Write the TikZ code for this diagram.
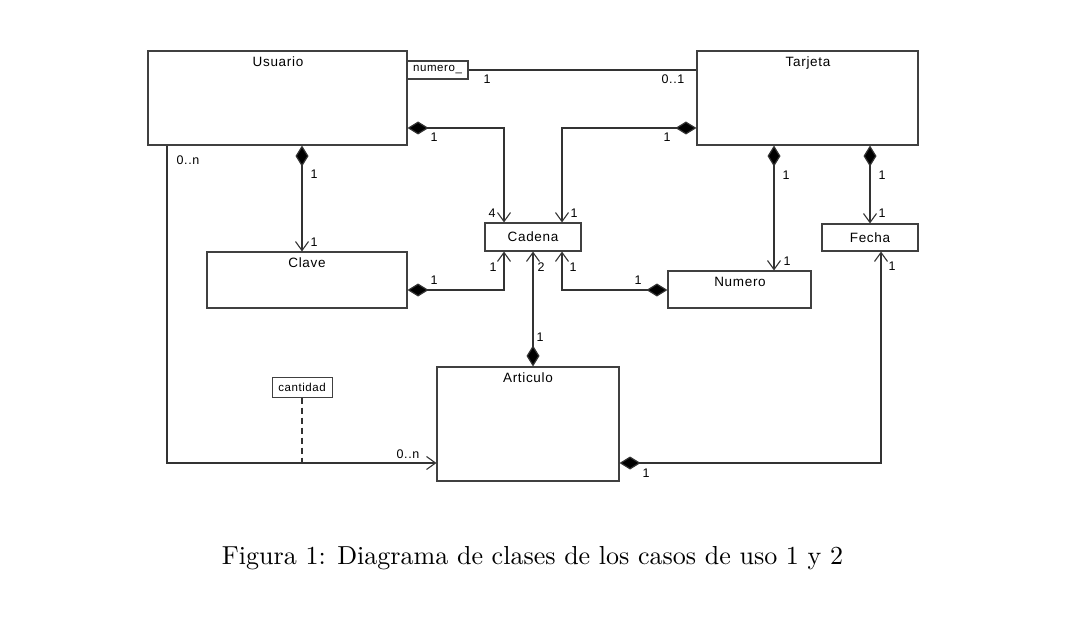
\documentclass[tikz,border=0pt]{standalone}
\usepackage{fontspec}
\newfontfamily\diagfont[LetterSpace=5]{Liberation Sans}
\usetikzlibrary{arrows.meta,calc}
\begin{document}
\begin{tikzpicture}[x=1pt,y=-1pt,
  cls/.style={draw=black!75,line width=1.1pt,fill=white,inner sep=0pt},
  ttl/.style={font=\diagfont\fontsize{13.5}{15}\selectfont,inner sep=0pt,anchor=north},
  mult/.style={font=\diagfont\fontsize{12.5}{14}\selectfont,inner sep=0pt},
  link/.style={draw=black!80,line width=1.2pt},
  comp/.style={link,{Diamond[length=21pt,width=13pt,fill=black]}-{Straight Barb[length=9pt,width=13pt,line width=1.1pt]}},
  nav/.style={link,-{Straight Barb[length=9pt,width=13pt,line width=1.1pt]}},
  note/.style={draw=black!75,line width=1pt,inner sep=0pt,font=\diagfont\fontsize{11.5}{12}\selectfont}
]
\useasboundingbox (0,0) rectangle (1086,620);
% classes
\node[cls,minimum width=259pt,minimum height=94pt] (usuario) at (277.5,98) {};
\node[ttl] at (278,57) {Usuario};
\node[cls,minimum width=221pt,minimum height=94pt] (tarjeta) at (807.5,98) {};
\node[ttl] at (808,57) {Tarjeta};
\node[cls,minimum width=61pt,minimum height=18pt,font=\diagfont\fontsize{11.5}{12}\selectfont] (numero) at (437.5,70) {numero\_};
\node[cls,minimum width=96pt,minimum height=28pt,font=\diagfont\fontsize{13.5}{15}\selectfont] (cadena) at (533,237) {Cadena};
\node[cls,minimum width=200pt,minimum height=56pt] (clave) at (307,280) {};
\node[ttl] at (307,258) {Clave};
\node[cls,minimum width=143pt,minimum height=37pt] (numcls) at (739.5,289.5) {};
\node[ttl] at (740,277) {Numero};
\node[cls,minimum width=96pt,minimum height=27pt,font=\diagfont\fontsize{13.5}{15}\selectfont] (fecha) at (870,237.5) {Fecha};
\node[cls,minimum width=182pt,minimum height=114pt] (articulo) at (528,424) {};
\node[ttl] at (528,373) {Articulo};
\node[note,minimum width=60pt,minimum height=20pt] (cantidad) at (302,387) {cantidad};
% connectors
\draw[link] (numero.east) -- (numero.east -| tarjeta.west);
\draw[comp] (usuario.east |- 0,128) -| ([xshift=-29pt]cadena.north);
\draw[comp] (tarjeta.west |- 0,128) -| ([xshift=29pt]cadena.north);
\draw[comp] (usuario.south -| 302,0) -- (clave.north -| 302,0);
\draw[comp] (clave.east |- 0,290) -| ([xshift=-29pt]cadena.south);
\draw[comp] (numcls.west |- 0,290) -| ([xshift=29pt]cadena.south);
\draw[comp] (articulo.north -| 533,0) -- (cadena.south);
\draw[comp] (tarjeta.south -| 774,0) -- (numcls.north -| 774,0);
\draw[comp] (tarjeta.south -| fecha.north) -- (fecha.north);
\draw[comp] (articulo.east |- 0,463) -| ([xshift=11pt]fecha.south);
\draw[nav] (usuario.south -| 167,0) |- (articulo.west |- 0,463);
\coordinate (dashend) at (302,463);
\draw[link,line width=1.1pt,dash pattern=on 6pt off 4pt] (cantidad.south) -- (dashend);
% multiplicities
\node[mult] at (487,79) {1};
\node[mult] at (673,79) {0..1};
\node[mult] at (434,137) {1};
\node[mult] at (667,137) {1};
\node[mult] at (188,160) {0..n};
\node[mult] at (314,174) {1};
\node[mult] at (314,242) {1};
\node[mult] at (492,213) {4};
\node[mult] at (574,213) {1};
\node[mult] at (493,267) {1};
\node[mult] at (541,267) {2};
\node[mult] at (573,267) {1};
\node[mult] at (434,280) {1};
\node[mult] at (638,280) {1};
\node[mult] at (540,337) {1};
\node[mult] at (786,175) {1};
\node[mult] at (787,261) {1};
\node[mult] at (882,175) {1};
\node[mult] at (882,213) {1};
\node[mult] at (892,266) {1};
\node[mult] at (646,473) {1};
\node[mult] at (408,454) {0..n};
% caption
\node[inner sep=0pt] (caption) at (532.5,558) {\resizebox{621pt}{!}{Figura 1: Diagrama de clases de los casos de uso 1 y 2}};
\end{tikzpicture}
\end{document}
